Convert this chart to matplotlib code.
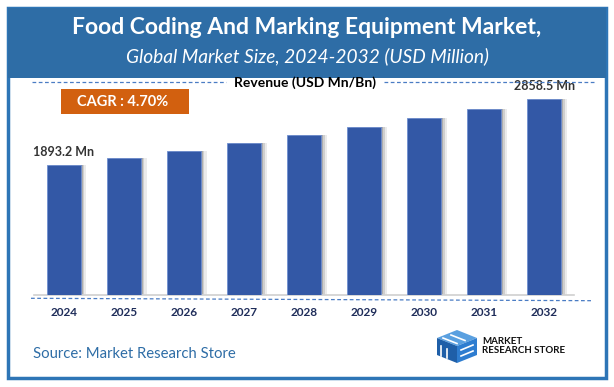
import numpy as np
import matplotlib.pyplot as plt
from matplotlib.patches import Rectangle, Polygon
from matplotlib.lines import Line2D

# data
years = ['2024', '2025', '2026', '2027', '2028', '2029', '2030', '2031', '2032']
revenue = [1893.2, 2001, 2098, 2215, 2328, 2456, 2580, 2714, 2858.5]
labelled = [0, 8]

title = 'Food Coding And Marking Equipment Market,'
subtitle = 'Global Market Size, 2024-2032 (USD Million)'
cagr_text = 'CAGR : 4.70%'
axis_caption = 'Revenue (USD Mn/Bn)'
source = 'Source: Market Research Store'

plt.rcParams['font.family'] = ['Lato', 'DejaVu Sans']

W, H = 614, 387
fig = plt.figure(figsize=(W / 100, H / 100), dpi=100)


def fx(px):
    return px / W


def fy(py):
    return 1 - py / H


blue = '#2E6DA6'
bar_blue = '#3358A6'
dash_blue = '#4A7CC4'

# frame and header band
fig.patches.append(Rectangle((fx(8), fy(378)), 598 / W, 370 / H, fill=False,
                             edgecolor='#2E75B6', lw=2.5, transform=fig.transFigure))
fig.patches.append(Rectangle((fx(8), fy(78)), 598 / W, 70 / H, facecolor=blue,
                             edgecolor='none', transform=fig.transFigure))
fig.text(fx(307), fy(27), title, ha='center', va='center', color='white',
         fontsize=16.5, fontweight='bold')
fig.text(fx(307), fy(56), subtitle, ha='center', va='center', color='white',
         fontsize=13.8, style='italic')

# caption with dashed rules
fig.text(fx(305), fy(83), axis_caption, ha='center', va='center', fontsize=10,
         fontweight='bold', color='black')
for x0, x1 in [(32, 226), (384, 596)]:
    fig.lines.append(Line2D([fx(x0), fx(x1)], [fy(82), fy(82)], color=dash_blue,
                            lw=0.9, dashes=(3, 2), transform=fig.transFigure))

# CAGR box
fig.patches.append(Rectangle((fx(61), fy(113.7)), 127.7 / W, 24.7 / H,
                             facecolor='#D2600F', edgecolor='none',
                             transform=fig.transFigure))
fig.text(fx(123), fy(101.5), cagr_text, ha='center', va='center', color='white',
         fontsize=10.5, fontweight='bold')

# bar chart
ax = fig.add_axes([33.7 / W, (H - 295) / H, 540.6 / W, 205 / H])
x = np.arange(len(years))
bw = 0.567
for off, a in [(0.03, 0.30), (0.06, 0.20), (0.095, 0.12)]:
    ax.bar(x + off, revenue, width=bw, color='#606060', alpha=a, lw=0, zorder=1)
ax.bar(x, revenue, width=bw, color=bar_blue, edgecolor='#6F8FD0', lw=0.6, zorder=3)
for i in labelled:
    ax.annotate(f'{revenue[i]} Mn', (x[i], revenue[i]), xytext=(0, 5),
                textcoords='offset points', ha='center', va='bottom',
                fontsize=9, fontweight='bold', color='#333333')

ax.set_xlim(-0.5, 8.5)
ax.set_ylim(0, 2990)
ax.set_xticks(x)
ax.set_xticklabels(years, fontweight='bold', color='#1F2D5A', fontsize=8.5)
ax.tick_params(axis='x', length=0, pad=9)
ax.set_yticks([])
for s in ['top', 'left', 'right']:
    ax.spines[s].set_visible(False)
ax.spines['bottom'].set_color('#D0D0D0')
ax.spines['bottom'].set_linewidth(1.2)
ax.patch.set_alpha(0)

# dashed rule under the axis
fig.lines.append(Line2D([fx(31), fx(593)], [fy(298.3), fy(300.7)], color=dash_blue,
                        lw=0.9, dashes=(3, 2), transform=fig.transFigure))

# source and logo
fig.text(fx(33), fy(354), source, ha='left', va='center', color=blue, fontsize=10.7)

faces = [
    ([(437, 338), (457, 330), (477, 338), (457, 346)], '#5AA0E0'),
    ([(437, 338), (457, 346), (457, 363), (437, 355)], '#1F5FA8'),
    ([(457, 346), (477, 338), (477, 355), (457, 363)], '#2E7DD0'),
]
for pts, c in faces:
    fig.patches.append(Polygon([(fx(px), fy(py)) for px, py in pts], closed=True,
                               facecolor=c, edgecolor='none', transform=fig.transFigure))
for pts in [[(443, 338), (457, 343.5)], [(451, 335), (465, 340.5)],
            [(441, 346), (441, 356)], [(447, 348.5), (447, 358)],
            [(461, 350), (473, 345)], [(461, 356), (473, 351)]]:
    fig.lines.append(Line2D([fx(p[0]) for p in pts], [fy(p[1]) for p in pts],
                            color='white', lw=1.2, transform=fig.transFigure))
fig.text(fx(482), fy(346), 'MARKET\nRESEARCH STORE', ha='left', va='center',
         fontsize=7, fontweight='bold', color='#111111', linespacing=0.95)

fig.savefig('out.png', dpi=100)
